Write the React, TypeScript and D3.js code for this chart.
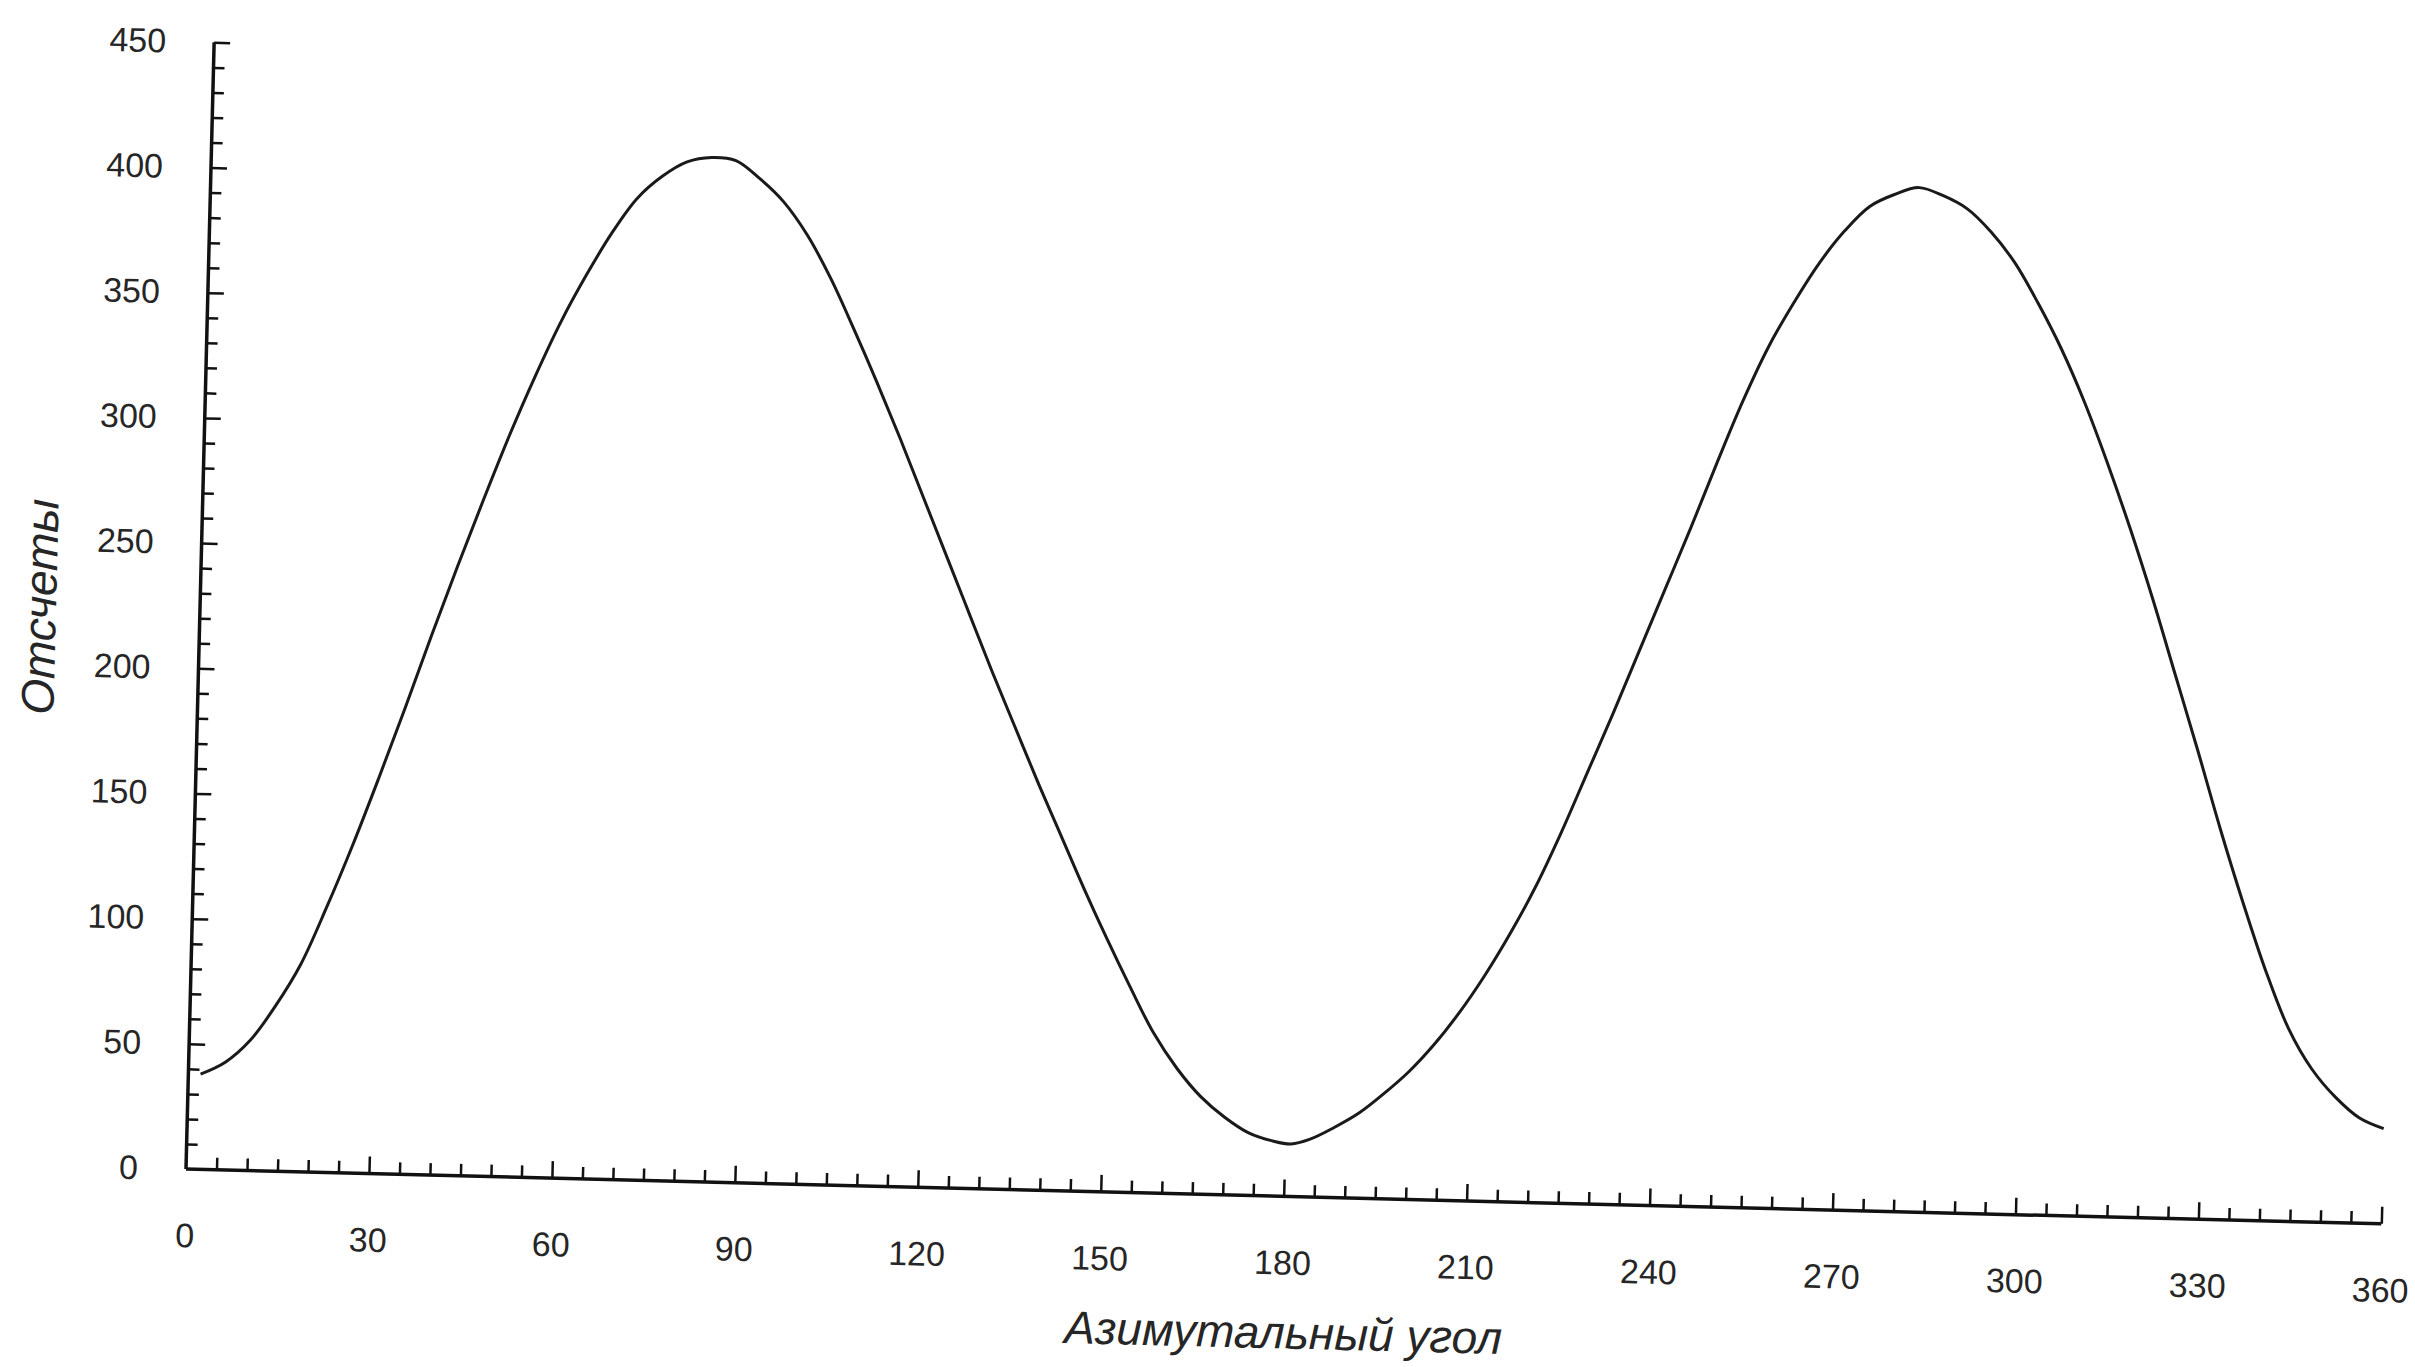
import React, { useEffect, useRef } from 'react';
import * as d3 from 'd3';

// values (angle in degrees, counts)
const angles = [2, 6, 10, 14, 18, 22, 26, 30, 34, 38, 42, 46, 50, 54, 58, 62, 66, 70, 74, 78, 82, 86, 90, 94, 98, 102, 106, 110, 114, 118, 122, 126, 130, 134, 138, 142, 146, 150, 154, 158, 162, 166, 170, 174, 178, 181, 184, 188, 192, 196, 200, 204, 208, 212, 216, 220, 224, 228, 232, 236, 240, 244, 248, 252, 256, 260, 264, 268, 272, 276, 280, 284, 288, 292, 296, 300, 304, 308, 312, 316, 320, 324, 328, 332, 336, 340, 344, 348, 352, 356, 360];
const counts = [38, 43, 52, 66, 83, 106, 131, 158, 186, 215, 243, 270, 296, 320, 342, 361, 378, 392, 401, 407, 409, 408, 401, 392, 379, 362, 342, 321, 299, 276, 253, 230, 207, 185, 163, 142, 121, 101, 82, 64, 50, 39, 31, 25, 22, 21, 23, 28, 34, 42, 51, 62, 75, 90, 107, 126, 148, 172, 196, 221, 246, 271, 297, 322, 344, 362, 378, 391, 401, 406, 409, 406, 401, 392, 380, 364, 346, 325, 301, 275, 247, 217, 187, 156, 127, 100, 77, 61, 50, 42, 38];

const xLabels = [0, 30, 60, 90, 120, 150, 180, 210, 240, 270, 300, 330, 360];
const yLabels = [0, 50, 100, 150, 200, 250, 300, 350, 400, 450];
const xMinor = d3.range(0, 361, 5).filter(d => d % 30 !== 0);
const yMinor = d3.range(10, 451, 10).filter(d => d % 50 !== 0);

const xTitle = 'Азимутальный угол';
const yTitle = 'Отсчеты';

export default function App() {
  const svgRef = useRef<SVGSVGElement>(null);

  useEffect(() => {
    if (!svgRef.current) return;
    const svg = d3.select(svgRef.current);
    svg.selectAll('*').remove();

    const width = 2415;
    const height = 1367;
    const ox = 186;
    const oy = 1169;
    const textColor = '#262626';
    const font = '"Liberation Sans", Arial, sans-serif';

    svg.attr('width', width).attr('height', height);
    svg.append('rect').attr('width', width).attr('height', height).attr('fill', '#fff');

    // the scan is tilted a little, so the whole plot is turned around the origin
    const g = svg.append('g').attr('transform', `rotate(1.43, ${ox}, ${oy})`);

    const x = d3.scaleLinear().domain([0, 360]).range([ox, ox + 2196]);
    const y = d3.scaleLinear().domain([0, 450]).range([oy, oy - 1127]);

    const styleTicks = (s: any) => {
      s.select('.domain').remove();
      s.selectAll('line').attr('stroke', '#111').attr('stroke-width', 2.5);
    };
    const styleText = (s: any) => {
      s.select('.domain').remove();
      s.selectAll('text')
        .attr('fill', textColor)
        .attr('font-family', font)
        .attr('font-size', 34);
    };

    // y axis: minor and major ticks pointing inwards
    g.append('g')
      .attr('transform', `translate(${ox},0)`)
      .call(d3.axisRight(y).tickValues(yMinor).tickSize(11).tickSizeOuter(0).tickFormat(() => ''))
      .call(styleTicks);

    g.append('g')
      .attr('transform', `translate(${ox},0)`)
      .call(d3.axisRight(y).tickValues(yLabels.filter(d => d > 0)).tickSize(16).tickSizeOuter(0).tickFormat(() => ''))
      .call(styleTicks);

    g.append('g')
      .attr('transform', `translate(${ox},0)`)
      .call(d3.axisLeft(y).tickValues(yLabels).tickSize(0).tickPadding(48))
      .call(styleText);

    // x axis: ticks every 5 degrees, longer every 30
    g.append('g')
      .attr('transform', `translate(0,${oy})`)
      .call(d3.axisTop(x).tickValues(xMinor).tickSize(12).tickSizeOuter(0).tickFormat(() => ''))
      .call(styleTicks);

    g.append('g')
      .attr('transform', `translate(0,${oy})`)
      .call(d3.axisTop(x).tickValues(xLabels.filter(d => d > 0)).tickSize(17).tickSizeOuter(0).tickFormat(() => ''))
      .call(styleTicks);

    g.append('g')
      .attr('transform', `translate(0,${oy})`)
      .call(d3.axisBottom(x).tickValues(xLabels).tickSize(0).tickPadding(54))
      .call(styleText);

    // axis lines
    g.append('line')
      .attr('x1', x(0)).attr('x2', x(0))
      .attr('y1', y(0)).attr('y2', y(450))
      .attr('stroke', '#111').attr('stroke-width', 3.5);
    g.append('line')
      .attr('x1', x(0)).attr('x2', x(360))
      .attr('y1', y(0)).attr('y2', y(0))
      .attr('stroke', '#111').attr('stroke-width', 3.5);

    // the curve
    const pts = angles.map((a, i) => [a, counts[i]] as [number, number]);
    const line = d3.line<[number, number]>()
      .x(d => x(d[0]))
      .y(d => y(d[1]))
      .curve(d3.curveCatmullRom.alpha(0.5));

    g.append('path')
      .datum(pts)
      .attr('fill', 'none')
      .attr('stroke', '#1a1a1a')
      .attr('stroke-width', 3)
      .attr('stroke-linejoin', 'round')
      .attr('d', line as any);

    // titles
    g.append('text')
      .attr('x', x(180.5))
      .attr('y', oy + 152)
      .attr('text-anchor', 'middle')
      .attr('font-family', font)
      .attr('font-style', 'italic')
      .attr('font-size', 46)
      .attr('fill', textColor)
      .text(xTitle);

    g.append('text')
      .attr('transform', `translate(${ox - 144},${y(223)}) rotate(-90)`)
      .attr('text-anchor', 'middle')
      .attr('font-family', font)
      .attr('font-style', 'italic')
      .attr('font-size', 46)
      .attr('fill', textColor)
      .text(yTitle);
  }, []);

  return (
    <svg
      ref={svgRef}
      style={{ position: 'absolute', left: 0, top: 0, display: 'block' }}
    />
  );
}
